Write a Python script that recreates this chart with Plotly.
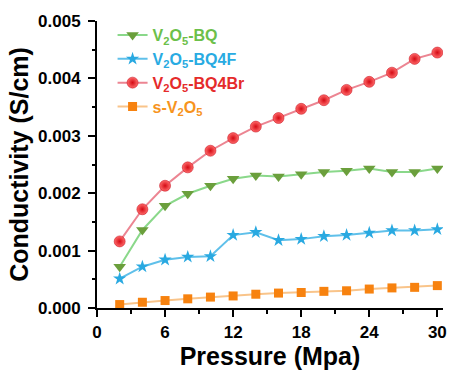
import plotly.graph_objects as go

pressure = [2, 4, 6, 8, 10, 12, 14, 16, 18, 20, 22, 24, 26, 28, 30]
bq = [0.00072, 0.00136, 0.00178, 0.00199, 0.00213, 0.00225, 0.00231, 0.00229, 0.00233, 0.00237, 0.00239, 0.00243, 0.00237, 0.00237, 0.00243]
bq4f = [0.00051, 0.00072, 0.00084, 0.00089, 0.00090, 0.00127, 0.00132, 0.00118, 0.00120, 0.00125, 0.00127, 0.00131, 0.00135, 0.00135, 0.00137]
bq4br = [0.00116, 0.00172, 0.00213, 0.00245, 0.00274, 0.00296, 0.00316, 0.00331, 0.00347, 0.00362, 0.00380, 0.00394, 0.00410, 0.00434, 0.00445]
sv2o5 = [0.00006, 0.00010, 0.00013, 0.00016, 0.00019, 0.00021, 0.00024, 0.00026, 0.00027, 0.00029, 0.00030, 0.00033, 0.00035, 0.00036, 0.00039]

x_ticks = [0, 6, 12, 18, 24, 30]
y_ticks = [0.000, 0.001, 0.002, 0.003, 0.004, 0.005]
y_labels = ["0.000", "0.001", "0.002", "0.003", "0.004", "0.005"]

series = [
    ("V<sub>2</sub>O<sub>5</sub>-BQ", bq, "#8ad88a", "#6b9f3c", "triangle-down", 11, "#6cc04a"),
    ("V<sub>2</sub>O<sub>5</sub>-BQ4F", bq4f, "#5fc0ea", "#29a9e1", "star", 10, "#29abe2"),
    ("V<sub>2</sub>O<sub>5</sub>-BQ4Br", bq4br, "#ec8592", "#e8151f", "circle", 11, "#e52b2b"),
    ("s-V<sub>2</sub>O<sub>5</sub>", sv2o5, "#f9c48a", "#f7820f", "square", 9, "#f7941d"),
]

FONT = "Arial, Liberation Sans"

fig = go.Figure()
for name, vals, lc, mc, sym, ms, tc in series:
    marker = dict(symbol=sym, size=ms, color=mc, line=dict(width=0))
    if sym == "circle":
        marker = dict(symbol=sym, size=ms, color="#ff6a6a",
                      gradient=dict(type="radial", color="#d40a14"),
                      line=dict(width=0.5, color="#c00010"))
    fig.add_trace(go.Scatter(
        x=pressure, y=vals, mode="lines+markers",
        name=f"<b><span style='color:{tc}'>{name}</span></b>",
        line=dict(color=lc, width=2),
        marker=marker,
    ))

axis_common = dict(
    showline=True, linecolor="black", linewidth=2,
    ticks="outside", tickwidth=2, ticklen=7, tickcolor="black",
    showgrid=False, zeroline=False,
    tickfont=dict(family=FONT, size=17, color="black", weight="bold"),
    minor=dict(ticks="outside", ticklen=3.5, tickwidth=1.5, tickcolor="black"),
)

fig.update_layout(
    width=459, height=372,
    margin=dict(l=97, r=12, t=17, b=63),
    paper_bgcolor="white", plot_bgcolor="white",
    showlegend=True,
    legend=dict(x=0.045, y=1.01, xanchor="left", yanchor="top",
                bgcolor="rgba(0,0,0,0)",
                font=dict(family=FONT, size=16),
                tracegroupgap=0, itemwidth=30),
    xaxis=dict(range=[0, 30.5], tickvals=x_ticks, ticklabelstandoff=1,
               title=dict(text="<b>Pressure (Mpa)</b>",
                          font=dict(family=FONT, size=25, color="black"),
                          standoff=0),
               **axis_common),
    yaxis=dict(range=[0, 0.005], tickvals=y_ticks, ticktext=y_labels,
               ticklabelstandoff=4,
               title=dict(text="<b>Conductivity (S/cm)</b>",
                          font=dict(family=FONT, size=25, color="black"),
                          standoff=2),
               **axis_common),
)
fig.update_xaxes(minor=dict(dtick=3, tick0=0))
fig.update_yaxes(minor=dict(dtick=0.0005, tick0=0))

fig.write_html("out.html")
